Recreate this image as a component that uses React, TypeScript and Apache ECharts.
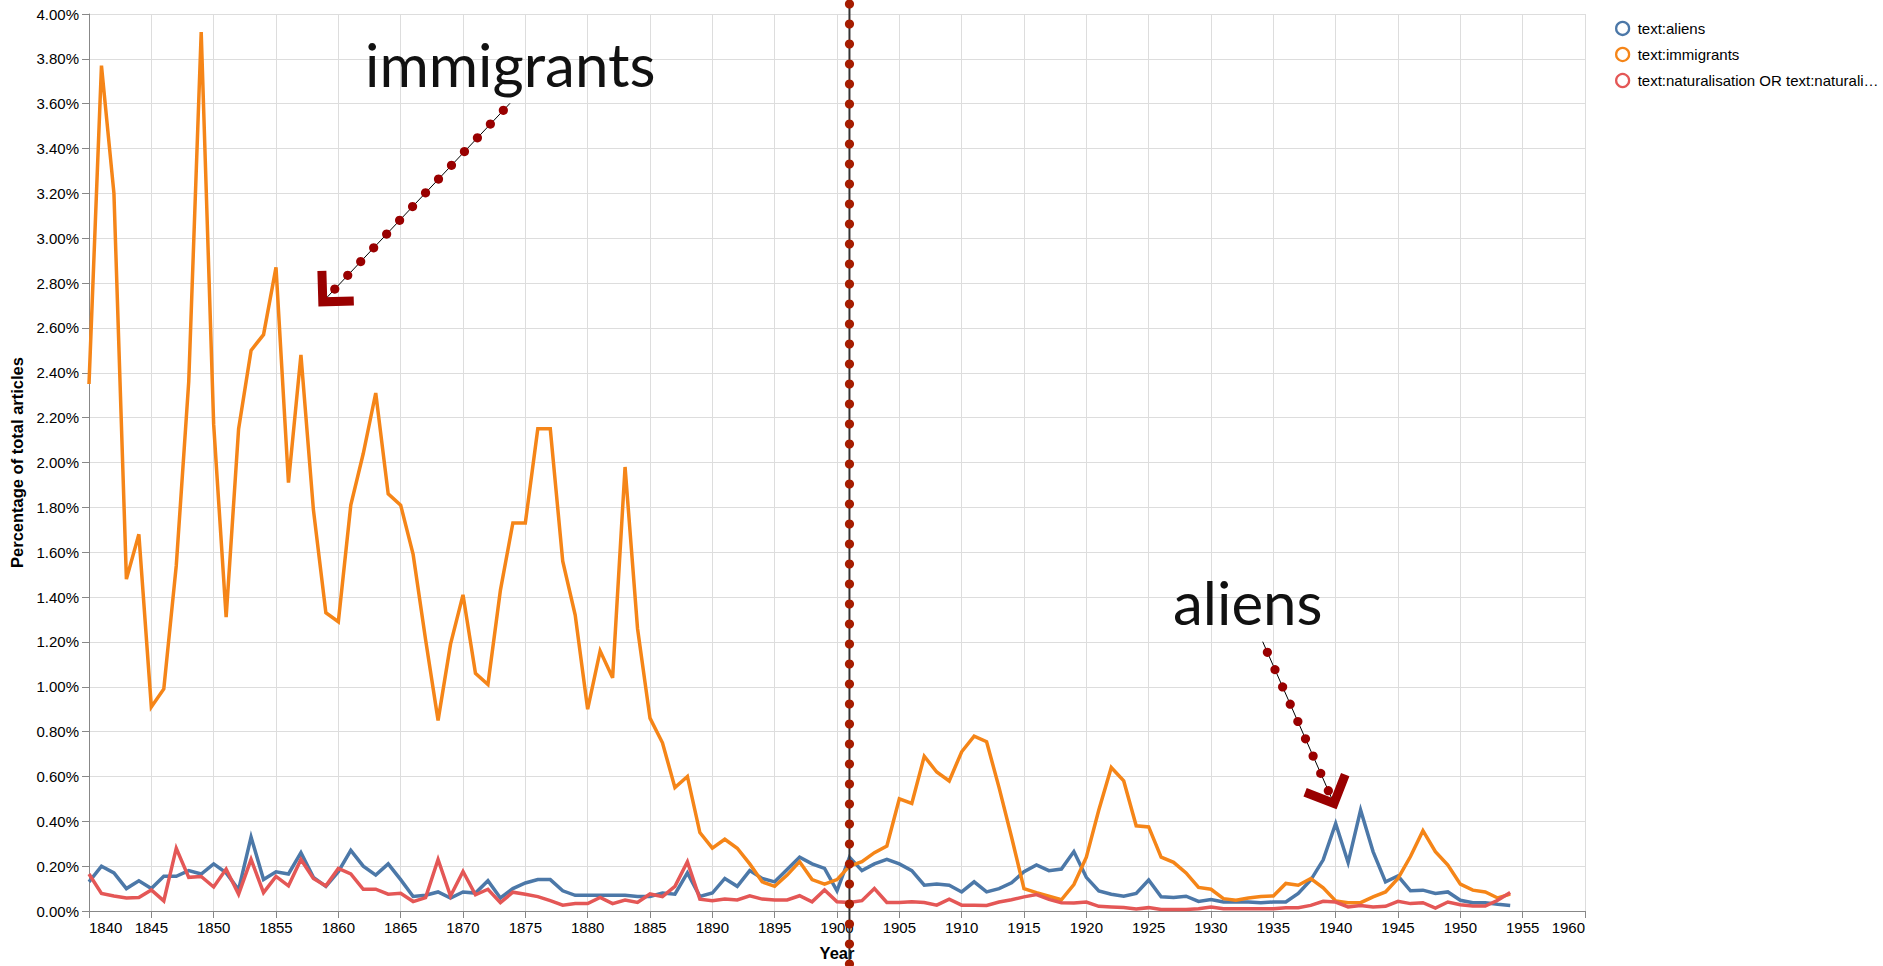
import React, { useEffect, useRef } from "react";
import * as echarts from "echarts";

const START_YEAR = 1840;

const ALIENS = [
  0.13, 0.2, 0.17, 0.1, 0.135, 0.1, 0.155, 0.155, 0.18, 0.165,
  0.21, 0.17, 0.095, 0.33, 0.14, 0.175, 0.165, 0.26, 0.15, 0.11,
  0.175, 0.27, 0.2, 0.16, 0.21, 0.14, 0.065, 0.07, 0.085, 0.058,
  0.085, 0.08, 0.135, 0.058, 0.1, 0.125, 0.14, 0.14, 0.09, 0.07,
  0.07, 0.07, 0.07, 0.07, 0.065, 0.065, 0.08, 0.075, 0.17, 0.065,
  0.08, 0.145, 0.11, 0.18, 0.145, 0.13, 0.185, 0.24, 0.21, 0.19,
  0.09, 0.24, 0.18, 0.21, 0.23, 0.21, 0.18, 0.115, 0.12, 0.115,
  0.085, 0.13, 0.085, 0.1, 0.126, 0.175, 0.205, 0.18, 0.187, 0.265,
  0.15, 0.09, 0.075, 0.066, 0.078, 0.138, 0.063, 0.06, 0.066, 0.043,
  0.051, 0.04, 0.04, 0.04, 0.037, 0.04, 0.04, 0.078, 0.138, 0.228,
  0.39, 0.216, 0.45, 0.265, 0.13, 0.156, 0.09, 0.093, 0.078, 0.085,
  0.048, 0.037, 0.037, 0.03, 0.025,
];

const IMMIGRANTS = [
  2.35, 3.77, 3.2, 1.48, 1.68, 0.91, 0.99, 1.54, 2.36, 3.92,
  2.17, 1.31, 2.15, 2.5, 2.57, 2.87, 1.91, 2.48, 1.79, 1.33,
  1.29, 1.81, 2.04, 2.31, 1.86, 1.81, 1.59, 1.21, 0.85, 1.19,
  1.41, 1.06, 1.01, 1.43, 1.73, 1.73, 2.15, 2.15, 1.56, 1.32,
  0.9, 1.16, 1.04, 1.98, 1.26, 0.86, 0.75, 0.55, 0.6, 0.35,
  0.28, 0.32, 0.28, 0.21, 0.13, 0.11, 0.16, 0.22, 0.14, 0.12,
  0.14, 0.2, 0.22, 0.26, 0.29, 0.5, 0.48, 0.69, 0.62, 0.58,
  0.71, 0.78, 0.755, 0.55, 0.33, 0.1, 0.082, 0.066, 0.05, 0.118,
  0.24, 0.45, 0.64, 0.58, 0.38, 0.375, 0.24, 0.217, 0.17, 0.105,
  0.097, 0.055, 0.048, 0.058, 0.065, 0.067, 0.123, 0.115, 0.145, 0.103,
  0.045, 0.037, 0.037, 0.063, 0.085, 0.145, 0.243, 0.358, 0.265, 0.205,
  0.12, 0.093, 0.085, 0.058, 0.075,
];

const NATURALISATION = [
  0.165, 0.078, 0.067, 0.058, 0.06, 0.094, 0.045, 0.28, 0.15, 0.154,
  0.107, 0.187, 0.075, 0.23, 0.082, 0.154, 0.112, 0.23, 0.145, 0.112,
  0.19, 0.165, 0.097, 0.097, 0.075, 0.079, 0.042, 0.06, 0.23, 0.067,
  0.176, 0.072, 0.097, 0.037, 0.084, 0.075, 0.064, 0.046, 0.026, 0.033,
  0.033, 0.06, 0.033, 0.049, 0.038, 0.076, 0.064, 0.11, 0.22, 0.053,
  0.046, 0.053, 0.049, 0.068, 0.053, 0.049, 0.049, 0.068, 0.041, 0.094,
  0.041, 0.038, 0.046, 0.1, 0.038, 0.038, 0.041, 0.038, 0.026, 0.053,
  0.026, 0.026, 0.025, 0.04, 0.05, 0.063, 0.073, 0.052, 0.037, 0.036,
  0.04, 0.021, 0.018, 0.016, 0.009, 0.015, 0.007, 0.007, 0.007, 0.01,
  0.018, 0.01, 0.01, 0.01, 0.01, 0.01, 0.015, 0.015, 0.025, 0.043,
  0.04, 0.018, 0.025, 0.018, 0.021, 0.043, 0.033, 0.037, 0.013, 0.04,
  0.028, 0.022, 0.022, 0.048, 0.082,
];

const SERIES_NAMES = [
  "text:aliens",
  "text:immigrants",
  "text:naturalisation OR text:naturali…",
];
const SERIES_VALUES = [ALIENS, IMMIGRANTS, NATURALISATION];
const SERIES_COLORS = ["#4c78a8", "#f58518", "#e45756"];

const X_MIN = 1840;
const X_MAX = 1960;
const X_STEP = 5;
const Y_MIN = 0;
const Y_MAX = 4;
const Y_STEP = 0.2;
const MARKER_YEAR = 1901;

const FONT = "'Liberation Sans', Arial, Helvetica, sans-serif";
const ANNOT_FONT = "Lato, 'Open Sans', sans-serif";

type Pt = [number, number];

const ANNOTATIONS = [
  { label: "immigrants", textX: 365, textY: 63.5, from: [510, 103.3] as Pt, to: [322.8, 301.8] as Pt, firstDot: 9.7, dots: 14 },
  { label: "aliens", textX: 1173, textY: 601.8, from: [1262.7, 641.7] as Pt, to: [1334, 803.5] as Pt, firstDot: 11.6, dots: 9 },
];

function buildAnnotation(a: typeof ANNOTATIONS[number]) {
  const dx = a.to[0] - a.from[0];
  const dy = a.to[1] - a.from[1];
  const len = Math.hypot(dx, dy);
  const ux = dx / len;
  const uy = dy / len;
  const els: any[] = [];
  els.push({
    type: "line",
    z: 100,
    shape: { x1: a.from[0], y1: a.from[1], x2: a.to[0], y2: a.to[1] },
    style: { stroke: "#000", lineWidth: 1 },
  });
  for (let k = 0; k < a.dots; k++) {
    const d = a.firstDot + k * 18.9;
    els.push({
      type: "circle",
      z: 101,
      shape: { cx: a.from[0] + ux * d, cy: a.from[1] + uy * d, r: 4.6 },
      style: { fill: "#990000" },
    });
  }
  const c = Math.SQRT1_2;
  const bx = -ux;
  const by = -uy;
  const L = 31;
  const r1: Pt = [a.to[0] + L * (bx * c - by * c), a.to[1] + L * (bx * c + by * c)];
  const r2: Pt = [a.to[0] + L * (bx * c + by * c), a.to[1] + L * (-bx * c + by * c)];
  els.push({
    type: "polyline",
    z: 102,
    shape: { points: [r1, a.to, r2] },
    style: { stroke: "#990000", lineWidth: 9, lineJoin: "miter", lineCap: "butt", fill: null },
  });
  els.push({
    type: "text",
    z: 103,
    x: a.textX,
    y: a.textY,
    style: {
      text: a.label,
      font: `60px ${ANNOT_FONT}`,
      fill: "#111",
      align: "left",
      verticalAlign: "middle",
    },
  });
  return els;
}

export default function App() {
  const ref = useRef<HTMLDivElement>(null);
  useEffect(() => {
    if (!ref.current) return;
    const chart = echarts.init(ref.current, undefined, { renderer: "svg" });
    const years = SERIES_VALUES[0].map((_, i) => START_YEAR + i);
    const option: any = {
      animation: false,
      backgroundColor: "#fff",
      textStyle: { fontFamily: FONT },
      grid: { left: 89, right: 298, top: 14, bottom: 55, containLabel: false },
      legend: {
        orient: "vertical",
        left: 1610,
        top: 15.8,
        itemWidth: 20,
        itemHeight: 13,
        itemGap: 10.8,
        icon: "circle",
        textStyle: { fontSize: 15, lineHeight: 13, color: "#000", fontFamily: FONT },
        data: SERIES_NAMES.map((n, i) => ({
          name: n,
          icon: "circle",
          itemStyle: { color: "rgba(0,0,0,0)", borderColor: SERIES_COLORS[i], borderWidth: 2.25 },
        })),
      },
      xAxis: {
        type: "value",
        min: X_MIN,
        max: X_MAX,
        interval: X_STEP,
        name: "Year",
        nameLocation: "middle",
        nameGap: 33,
        nameTextStyle: { fontWeight: "bold", fontSize: 16.5, color: "#000", fontFamily: FONT },
        axisLine: { show: true, onZero: false, lineStyle: { color: "#888", width: 1 } },
        axisTick: { show: true, length: 7, lineStyle: { color: "#888" } },
        axisLabel: {
          formatter: (v: number) => String(v),
          fontSize: 15,
          color: "#000",
          margin: 9,
          alignMinLabel: "left",
          alignMaxLabel: "right",
        },
        splitLine: { show: true, lineStyle: { color: "#ddd", width: 1 } },
      },
      yAxis: {
        type: "value",
        min: Y_MIN,
        max: Y_MAX,
        interval: Y_STEP,
        name: "Percentage of total articles",
        nameLocation: "middle",
        nameGap: 58,
        nameTextStyle: { fontWeight: "bold", fontSize: 16.5, color: "#000", fontFamily: FONT },
        axisLine: { show: true, lineStyle: { color: "#888", width: 1 } },
        axisTick: { show: true, length: 7, lineStyle: { color: "#888" } },
        axisLabel: {
          formatter: (v: number) => v.toFixed(2) + "%",
          fontSize: 15,
          color: "#000",
          margin: 10,
        },
        splitLine: { show: true, lineStyle: { color: "#ddd", width: 1 } },
      },
      series: SERIES_NAMES.map((n, i) => ({
        name: n,
        type: "line",
        showSymbol: false,
        symbol: "none",
        data: SERIES_VALUES[i].map((v, j) => [years[j], v]),
        lineStyle: { color: SERIES_COLORS[i], width: 3.5, join: "miter", cap: "butt", miterLimit: 10 },
        itemStyle: { color: SERIES_COLORS[i] },
        emphasis: { disabled: true },
      })),
    };
    chart.setOption(option);

    const px = chart.convertToPixel({ xAxisIndex: 0 }, MARKER_YEAR) as number;
    const graphics: any[] = [];
    graphics.push({
      type: "line",
      z: 100,
      shape: { x1: px, y1: 0, x2: px, y2: 966 },
      style: { stroke: "#333", lineWidth: 2 },
    });
    for (let y = 4; y <= 966; y += 20) {
      graphics.push({
        type: "circle",
        z: 101,
        shape: { cx: px, cy: y, r: 4.6 },
        style: { fill: "#a51c00" },
      });
    }
    ANNOTATIONS.forEach((a) => graphics.push(...buildAnnotation(a)));
    chart.setOption({ graphic: graphics });

    return () => chart.dispose();
  }, []);
  return (
    <div
      ref={ref}
      style={{ position: "fixed", left: 0, top: 0, width: 1883, height: 966 }}
    />
  );
}
